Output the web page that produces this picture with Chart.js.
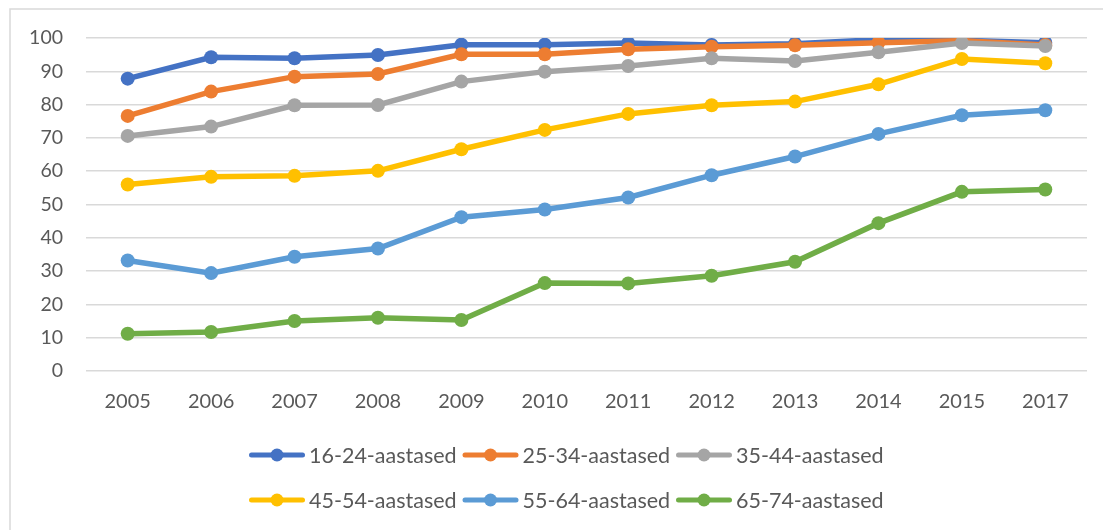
<!DOCTYPE html>
<html>
<head>
<meta charset="utf-8">
<script src="https://cdn.jsdelivr.net/npm/chart.js@4/dist/chart.umd.min.js"></script>
<style>
  html, body { margin: 0; padding: 0; background: #ffffff; }
  #wrap { position: relative; width: 1103px; height: 530px; }
</style>
</head>
<body>
<div id="wrap"><canvas id="c" width="1103" height="530"></canvas></div>
<script>
const years = ['2005','2006','2007','2008','2009','2010','2011','2012','2013','2014','2015','2017'];
const seriesNames = ['16-24-aastased','25-34-aastased','35-44-aastased','45-54-aastased','55-64-aastased','65-74-aastased'];
const s16_24 = [87.8, 94.2, 93.9, 94.9, 98.0, 98.0, 98.5, 97.9, 98.3, 99.5, 99.3, 98.6];
const s25_34 = [76.6, 83.9, 88.4, 89.2, 95.1, 95.1, 96.6, 97.4, 97.8, 98.6, 99.2, 97.9];
const s35_44 = [70.6, 73.4, 79.8, 79.9, 86.9, 89.9, 91.6, 93.9, 93.1, 95.7, 98.5, 97.6];
const s45_54 = [56.0, 58.3, 58.6, 60.1, 66.6, 72.4, 77.2, 79.8, 80.9, 86.1, 93.7, 92.4];
const s55_64 = [33.2, 29.4, 34.3, 36.8, 46.2, 48.5, 52.1, 58.8, 64.4, 71.2, 76.8, 78.3];
const s65_74 = [11.2, 11.7, 15.0, 16.0, 15.3, 26.4, 26.3, 28.6, 32.8, 44.4, 53.8, 54.5];
const yTicks = [0, 10, 20, 30, 40, 50, 60, 70, 80, 90, 100];

const allSeries = [s16_24, s25_34, s35_44, s45_54, s55_64, s65_74];
const colors = ['#4472C4', '#ED7D31', '#A5A5A5', '#FFC000', '#5B9BD5', '#70AD47'];
const FONT = 'Lato, "Open Sans", sans-serif';
const TEXT = '#595959';

const datasets = allSeries.map((d, i) => ({
  label: seriesNames[i],
  data: d,
  borderColor: colors[i],
  backgroundColor: colors[i],
  pointBackgroundColor: colors[i],
  pointBorderColor: colors[i],
  borderWidth: 5.5,
  pointRadius: 7,
  pointBorderWidth: 0,
  tension: 0,
  fill: false,
  order: allSeries.length - i
}));

const frameAndLegend = {
  id: 'frameAndLegend',
  beforeDraw(chart) {
    const ctx = chart.ctx;
    ctx.save();
    ctx.strokeStyle = '#d9d9d9';
    ctx.lineWidth = 1.5;
    ctx.strokeRect(10, 9, 1300, 700);
    ctx.restore();
  },
  afterDraw(chart) {
    const ctx = chart.ctx;
    ctx.save();
    const colX = [249, 462.5, 676];
    const rowY = [455, 500];
    const lineLen = 56;
    ctx.font = '21.5px ' + FONT;
    ctx.textBaseline = 'middle';
    ctx.textAlign = 'left';
    chart.data.datasets.forEach((ds, i) => {
      const x = colX[i % 3];
      const y = rowY[Math.floor(i / 3)];
      ctx.strokeStyle = ds.borderColor;
      ctx.lineWidth = 5;
      ctx.lineCap = 'round';
      ctx.beginPath();
      ctx.moveTo(x + 2.5, y);
      ctx.lineTo(x + lineLen - 2.5, y);
      ctx.stroke();
      ctx.fillStyle = ds.borderColor;
      ctx.beginPath();
      ctx.arc(x + lineLen / 2, y, 6.5, 0, Math.PI * 2);
      ctx.fill();
      ctx.fillStyle = TEXT;
      ctx.fillText(ds.label, x + lineLen + 4, y + 1);
    });
    ctx.restore();
  }
};

new Chart(document.getElementById('c'), {
  type: 'line',
  data: { labels: years, datasets },
  options: {
    responsive: false,
    animation: false,
    devicePixelRatio: 1,
    layout: { padding: { top: 38, right: 16, bottom: 109, left: 0 } },
    plugins: { legend: { display: false }, tooltip: { enabled: false } },
    scales: {
      x: {
        offset: true,
        grid: { display: false, drawTicks: false },
        border: { display: false },
        ticks: { color: TEXT, font: { family: FONT, size: 20 }, padding: 19, maxRotation: 0 },
        afterFit(scale) { scale.height = 50; }
      },
      y: {
        min: 0, max: 100,
        afterBuildTicks(scale) { scale.ticks = yTicks.map(v => ({ value: v })); },
        grid: { color: '#d9d9d9', lineWidth: 1.5, drawTicks: false },
        border: { display: false },
        ticks: { color: TEXT, font: { family: FONT, size: 19.5 }, padding: 23 },
        afterFit(scale) { scale.width = 86; }
      }
    }
  },
  plugins: [frameAndLegend]
});
</script>
</body>
</html>
